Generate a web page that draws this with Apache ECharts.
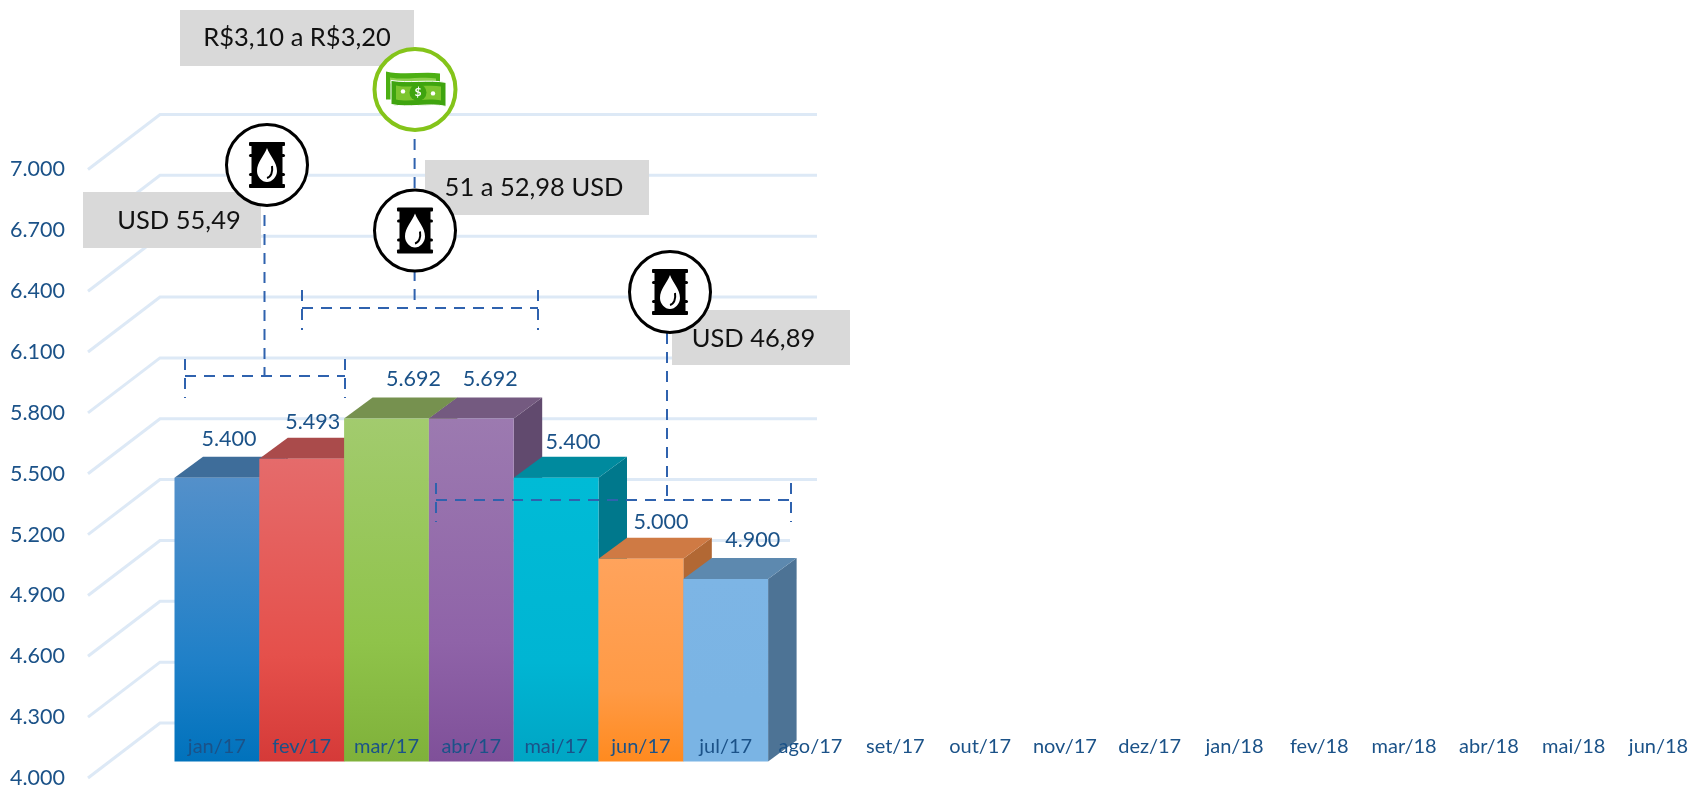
<!DOCTYPE html>
<html><head><meta charset="utf-8">
<style>html,body{margin:0;padding:0;background:#fff}#c{width:1689px;height:787px}</style>
<script src="https://cdn.jsdelivr.net/npm/echarts@6/dist/echarts.min.js"></script>
</head><body><div id="c"></div>
<script>
const categories = ['jan/17','fev/17','mar/17','abr/17','mai/17','jun/17','jul/17','ago/17','set/17','out/17','nov/17','dez/17','jan/18','fev/18','mar/18','abr/18','mai/18','jun/18'];
const values = [5400,5493,5692,5692,5400,5000,4900];
const wallTicks = [4000,4300,4600,4900,5200,5500,5800,6100,6400,6700,7000];

const frontTop = ['#5490CA','#E56B6B','#A2CB6E','#9C7AB0','#00BBD6','#FFA35C','#7DB5E5'];
const frontMid = ['#1F80C8','#E5504B','#8FC34A','#8F63A8','#00B5D3','#FF9A45','#7AB4E4'];
const frontBot = ['#0072BC','#D53A38','#7FB13A','#7F5099','#00A5C4','#FF8A1F','#7AB4E4'];
const topFace  = ['#3E6D9A','#AA4B4B','#76914F','#745A80','#008A9E','#CF7A44','#5D89AF'];
const sideFace = ['#35608A','#8F3D3D','#64803F','#614A6E','#00788C','#B26834','#4D7395'];
const labelDx = [12,11,27,19,17,20,27];
const labelDy = [-23,-21,-23,-23,-20,-21,-23];

const BLUE = '#1B5288', DASH = '#2F62AE', WALL = '#DDE9F6', FONT = 'Lato';
const DEPTH_X = 28.5, DEPTH_Y = 21;

echarts.graphic.registerShape('curve', echarts.graphic.extendShape({
  shape:{segs:[]},
  buildPath(ctx,s){
    s.segs.forEach(g=>{
      if(g.length===2) ctx.lineTo(g[0],g[1]);
      else if(g.length===3) ctx.moveTo(g[1],g[2]);
      else ctx.bezierCurveTo(g[0],g[1],g[2],g[3],g[4],g[5]);
    });
    if(s.closed) ctx.closePath();
  }
}));
const curve = (z,segs,closed,style) => ({type:'curve',z,shape:{segs,closed},style});

const box = (x,y,w,h,text,tx,ty) => [
  {type:'rect',z:20,shape:{x,y,width:w,height:h},style:{fill:'#D9D9D9'}},
  {type:'text',z:21,x:tx,y:ty,style:{text,font:'25.5px '+FONT,fill:'#111',align:'center',verticalAlign:'middle'}}
];
const dash = (x1,y1,x2,y2) => ({type:'line',z:22,shape:{x1,y1,x2,y2},style:{stroke:DASH,lineWidth:2,lineDash:[11,8]}});
const barrel = (cx,cy) => ({type:'group',x:cx,y:cy,z:23,children:[
  {type:'circle',z:23,shape:{cx:0,cy:0,r:40.5},style:{fill:'#fff',stroke:'#000',lineWidth:3}},
  {type:'rect',z:24,shape:{x:-15.5,y:-22,width:31,height:44},style:{fill:'#000'}},
  {type:'rect',z:24,shape:{x:-18,y:-23,width:36,height:4,r:1},style:{fill:'#000'}},
  {type:'rect',z:24,shape:{x:-18,y:19,width:36,height:4,r:1},style:{fill:'#000'}},
  {type:'rect',z:24,shape:{x:-18,y:-11,width:36,height:3,r:1.5},style:{fill:'#000'}},
  {type:'rect',z:24,shape:{x:-18,y:8,width:36,height:3,r:1.5},style:{fill:'#000'}},
  curve(25,[['M',0,-17],[3,-9,10,-3,10,6],[10,12,5,17,0,17],[-5,17,-10,12,-10,6],[-10,-3,-3,-9,0,-17]],true,{fill:'#fff'}),
  curve(26,[['M',5,1],[6,7,4,12,0,13]],false,{fill:'none',stroke:'#000',lineWidth:2})
]});
const money = (cx,cy) => ({type:'group',x:cx,y:cy,z:23,children:[
  {type:'circle',z:23,shape:{cx:0,cy:0,r:40.5},style:{fill:'#fff',stroke:'#84C41A',lineWidth:4}},
  curve(24,[['M',-29,-18],[-12,-14,8,-18,25,-16],[25,10],[-29,10]],true,{fill:'#4CAF13'}),
  curve(24,[['M',-25,-12],[-10,-9,6,-13,21,-11],[21,-6],[-25,-6]],true,{fill:'#8FD14F'}),
  curve(25,[['M',-24,-9],[-6,-6,14,-10,31,-7],[31,17],[14,13,-6,19,-24,15]],true,{fill:'#3FA40F',stroke:'#fff',lineWidth:1}),
  curve(26,[['M',-19,-4],[-6,-1,12,-5,26,-3],[26,11],[12,8,-6,13,-19,10]],true,{fill:'#7CC52E'}),
  {type:'circle',z:27,shape:{cx:3,cy:3,r:8.5},style:{fill:'#3FA40F'}},
  {type:'circle',z:27,shape:{cx:-12,cy:2,r:2.2},style:{fill:'#fff'}},
  {type:'circle',z:27,shape:{cx:18,cy:4,r:2.2},style:{fill:'#fff'}},
  {type:'text',z:28,x:3,y:3,style:{text:'$',font:'bold 12px '+FONT,fill:'#fff',align:'center',verticalAlign:'middle'}}
]});

const option = {
  backgroundColor:'#fff',
  animation:false,
  textStyle:{fontFamily:FONT},
  grid:[
    {left:174.5,top:153.1,width:1526.4,height:608.5,outerBoundsMode:'none'},
    {left:88,top:169.5,width:10,height:608.5,outerBoundsMode:'none'}
  ],
  xAxis:[
    {type:'category',gridIndex:0,data:categories,z:10,boundaryGap:true,
     axisLine:{show:false},axisTick:{show:false},
     axisLabel:{inside:true,margin:5,interval:0,hideOverlap:false,color:BLUE,fontSize:20,fontFamily:FONT}},
    {type:'category',gridIndex:1,show:false,data:[]}
  ],
  yAxis:[
    {type:'value',gridIndex:0,min:4000,max:7000,interval:300,show:false,splitLine:{show:false}},
    {type:'value',gridIndex:1,min:4000,max:7000,interval:300,splitLine:{show:false},
     axisLine:{show:false},axisTick:{show:false},
     axisLabel:{margin:23,color:BLUE,fontSize:21.5,fontFamily:FONT,formatter:v=>(v/1000).toFixed(3)}}
  ],
  series:[
    {type:'custom',name:'parede',z:1,silent:true,clip:false,coordinateSystem:'cartesian2d',
     xAxisIndex:0,yAxisIndex:0,
     data:wallTicks.map(v=>[0,v]),encode:{x:0,y:1},
     renderItem(params,api){
       const v = api.value(1), y = api.coord([0,v])[1];
       const end = v<=4900 ? 790 : 817;
       return {type:'polyline',shape:{points:[[88,y+16.4],[160,y-38.6],[end,y-38.6]]},
               style:{fill:'none',stroke:WALL,lineWidth:3}};
     }},
    {type:'custom',name:'faces',z:2,silent:true,clip:false,coordinateSystem:'cartesian2d',
     xAxisIndex:0,yAxisIndex:0,
     data:values.map((v,i)=>[i,v]),encode:{x:0,y:1},
     renderItem(params,api){
       const i = api.value(0), p = api.coord([i,api.value(1)]), base = api.coord([i,4000])[1];
       const hw = api.size([1,0])[0]/2, L = p[0]-hw, R = p[0]+hw, T = p[1];
       return {type:'group',children:[
         {type:'polygon',shape:{points:[[R,T],[R+DEPTH_X,T-DEPTH_Y],[R+DEPTH_X,base-DEPTH_Y],[R,base]]},style:{fill:sideFace[i]}},
         {type:'polygon',shape:{points:[[L,T],[R,T],[R+DEPTH_X,T-DEPTH_Y],[L+DEPTH_X,T-DEPTH_Y]]},style:{fill:topFace[i]}}
       ]};
     }},
    {type:'bar',name:'Produção',z:3,xAxisIndex:0,yAxisIndex:0,barWidth:'100%',barGap:0,
     data:values.map((v,i)=>({value:v,
       itemStyle:{color:{type:'linear',x:0,y:0,x2:0,y2:1,colorStops:[
         {offset:0,color:frontTop[i]},{offset:0.65,color:frontMid[i]},{offset:1,color:frontBot[i]}]}},
       label:{offset:[labelDx[i],labelDy[i]]}})),
     label:{show:true,position:'top',color:BLUE,fontSize:21.5,fontFamily:FONT,
            formatter:p=>(p.value/1000).toFixed(3)}}
  ],
  graphic:{elements:[
    ...box(180,10,234,56,'R$3,10 a R$3,20',297,38),
    ...box(83,192,178,56,'USD 55,49',179,221),
    ...box(425,160,224,55,'51 a 52,98 USD',534,188),
    ...box(672,310,178,55,'USD 46,89',753.5,339),
    dash(264.5,215,264.5,376),dash(185,376,345,376),dash(185,359,185,398),dash(345,359,345,398),
    dash(414.6,139,414.6,192),dash(414.6,270,414.6,308),dash(302,308,538,308),dash(302,290,302,330),dash(538,290,538,330),
    dash(667,333,667,500),dash(436,500,791,500),dash(436,483,436,522),dash(791,483,791,522),
    barrel(267,165),barrel(415,230.5),barrel(670,292),money(415,89.4)
  ]}
};
echarts.init(document.getElementById('c'),null,{renderer:'canvas'}).setOption(option);
</script></body></html>
